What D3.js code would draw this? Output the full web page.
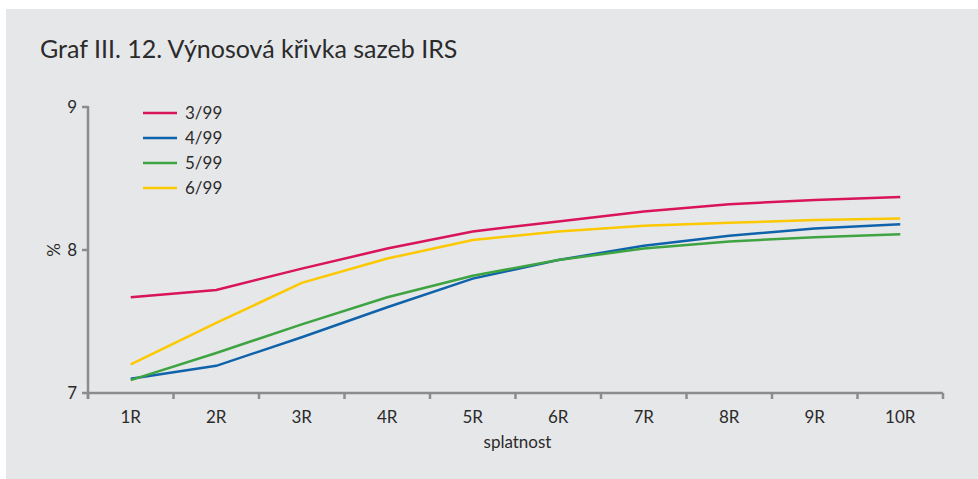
<!DOCTYPE html>
<html>
<head>
<meta charset="utf-8">
<script src="https://cdn.jsdelivr.net/npm/d3@7"></script>
<style>
  body { margin: 0; background: #fff; }
  svg { display: block; font-family: Lato, "Open Sans", sans-serif; }
</style>
</head>
<body>
<svg id="chart" width="978" height="479"></svg>
<script>
// splatnost (years)
var categories = ['1R', '2R', '3R', '4R', '5R', '6R', '7R', '8R', '9R', '10R'];
var yTicks = [7, 8, 9];

// IRS rates in %
var s399 = [7.67, 7.72, 7.87, 8.01, 8.13, 8.20, 8.27, 8.32, 8.35, 8.37];
var s499 = [7.10, 7.19, 7.39, 7.60, 7.80, 7.93, 8.03, 8.10, 8.15, 8.18];
var s599 = [7.09, 7.28, 7.48, 7.67, 7.82, 7.93, 8.01, 8.06, 8.09, 8.11];
var s699 = [7.20, 7.49, 7.77, 7.94, 8.07, 8.13, 8.17, 8.19, 8.21, 8.22];

var seriesNames = ['3/99', '4/99', '5/99', '6/99'];
var seriesColors = ['#d9145a', '#0f63ab', '#3ea442', '#fcc800'];

var svg = d3.select('#chart');
var W = 978, H = 479;
// plot box (window.top is taken, so prefixed names)
var pLeft = 88, pRight = 943, pTop = 107, pBottom = 393;
var textCol = '#2b2b2b';
var axisCol = '#8c8c8e';
var fs = 17;

// background panel
svg.append('rect')
    .attr('x', 6).attr('y', 9)
    .attr('width', W - 6).attr('height', H - 9)
    .attr('fill', '#e6e7e9');

svg.append('text')
    .attr('x', 40).attr('y', 58)
    .attr('font-size', 25)
    .attr('fill', textCol)
    .text('Graf III. 12. Výnosová křivka sazeb IRS');

var x = d3.scaleBand().domain(categories).range([pLeft, pRight]);
var y = d3.scaleLinear().domain([7, 9]).range([pBottom, pTop]);

// x axis
var gx = svg.append('g').attr('transform', 'translate(0,' + pBottom + ')');
gx.append('line')
    .attr('x1', pLeft).attr('x2', pRight)
    .attr('stroke', axisCol).attr('stroke-width', 2.5);
var bounds = categories.map(function(c) { return x(c); }).concat([pRight]);
gx.selectAll('.xt').data(bounds).enter().append('line')
    .attr('x1', function(d) { return d; })
    .attr('x2', function(d) { return d; })
    .attr('y1', 0).attr('y2', 6)
    .attr('stroke', axisCol).attr('stroke-width', 2.5);
gx.selectAll('.xl').data(categories).enter().append('text')
    .attr('x', function(d) { return x(d) + x.bandwidth() / 2; })
    .attr('y', 30)
    .attr('text-anchor', 'middle')
    .attr('font-size', fs)
    .attr('fill', textCol)
    .text(function(d) { return d; });

// y axis
var gy = svg.append('g').attr('transform', 'translate(' + pLeft + ',0)');
gy.append('line')
    .attr('y1', pTop - 1).attr('y2', pBottom + 6)
    .attr('stroke', axisCol).attr('stroke-width', 2.5);
gy.selectAll('.yt').data(yTicks).enter().append('line')
    .attr('x1', -6).attr('x2', 0)
    .attr('y1', function(d) { return y(d); })
    .attr('y2', function(d) { return y(d); })
    .attr('stroke', axisCol).attr('stroke-width', 2.5);
gy.selectAll('.yl').data(yTicks).enter().append('text')
    .attr('x', -11)
    .attr('y', function(d) { return y(d) + 6; })
    .attr('text-anchor', 'end')
    .attr('font-size', fs)
    .attr('fill', textCol)
    .text(function(d) { return d; });

svg.append('text')
    .attr('transform', 'translate(60,' + (y(8)) + ') rotate(-90)')
    .attr('text-anchor', 'middle')
    .attr('font-size', fs)
    .attr('fill', textCol)
    .text('%');

svg.append('text')
    .attr('x', (pLeft + pRight) / 2 + 2).attr('y', 448)
    .attr('text-anchor', 'middle')
    .attr('font-size', fs)
    .attr('fill', textCol)
    .text('splatnost');

// lines
var line = d3.line()
    .x(function(d, i) { return x(categories[i]) + x.bandwidth() / 2; })
    .y(function(d) { return y(d); });

[s399, s499, s599, s699].forEach(function(s, i) {
    svg.append('path')
        .attr('d', line(s))
        .attr('fill', 'none')
        .attr('stroke', seriesColors[i])
        .attr('stroke-width', 2.5);
});

// legend
var lg = svg.append('g');
seriesNames.forEach(function(n, i) {
    var ly = 113 + i * 25;
    lg.append('line')
        .attr('x1', 143).attr('x2', 177)
        .attr('y1', ly).attr('y2', ly)
        .attr('stroke', seriesColors[i]).attr('stroke-width', 2.5);
    lg.append('text')
        .attr('x', 185).attr('y', ly + 6)
        .attr('font-size', fs)
        .attr('fill', textCol)
        .text(n);
});
</script>
</body>
</html>
